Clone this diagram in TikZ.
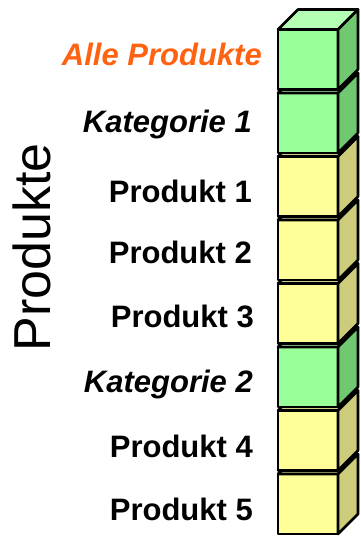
\documentclass[tikz,border=0pt]{standalone}
\usepackage{fontspec}
\setmainfont{Liberation Sans}
\definecolor{allefarbe}{RGB}{255,98,16}
\definecolor{frontgruen}{RGB}{153,255,153}
\definecolor{topgruen}{RGB}{180,255,180}
\definecolor{seitegruen}{RGB}{112,200,112}
\definecolor{frontgelb}{RGB}{255,255,153}
\definecolor{topgelb}{RGB}{205,205,135}
\definecolor{seitegelb}{RGB}{204,204,122}
\tikzset{
  wuerfel/.style={draw=black,line width=2.6pt,line join=round},
  eintrag/.style={anchor=base east,inner sep=0pt,font=\fontsize{31}{31}\selectfont\bfseries},
  kategorie/.style={eintrag,font=\fontsize{31}{31}\selectfont\bfseries\itshape}
}
\begin{document}
\begin{tikzpicture}[x=1pt,y=-1pt]
    \useasboundingbox (0,0) rectangle (360,537);
    % Wuerfel, von unten nach oben
    \foreach \i/\farbe in {7/gelb,6/gelb,5/gruen,4/gelb,3/gelb,2/gelb,1/gruen,0/gruen} {
      \pgfmathsetmacro\yo{29.5+63.5*\i}
      \draw[wuerfel,fill=front\farbe] (278,\yo) rectangle (338,\yo+60);
      \draw[wuerfel,fill=top\farbe] (278,\yo) -- (298,\yo-20) -- (358,\yo-20) -- (338,\yo) -- cycle;
      \draw[wuerfel,fill=seite\farbe] (338,\yo) -- (358,\yo-20) -- (358,\yo+40) -- (338,\yo+60) -- cycle;
    }
    % Beschriftungen
    \node[kategorie,text=allefarbe] (alle) at (262,66) {Alle Produkte};
    \node[kategorie] (kat1) at (252,133) {Kategorie 1};
    \node[eintrag] (prod1) at (252,202) {Produkt 1};
    \node[eintrag] (prod2) at (252,263) {Produkt 2};
    \node[eintrag] (prod3) at (254,327) {Produkt 3};
    \node[kategorie] (kat2) at (253,392) {Kategorie 2};
    \node[eintrag] (prod4) at (253,457) {Produkt 4};
    \node[eintrag] (prod5) at (253,520) {Produkt 5};
    % Achse
    \node[rotate=90,anchor=base,inner sep=0pt,font=\fontsize{52}{52}\selectfont] (achse) at (50,247.5) {Produkte};
\end{tikzpicture}
\end{document}
